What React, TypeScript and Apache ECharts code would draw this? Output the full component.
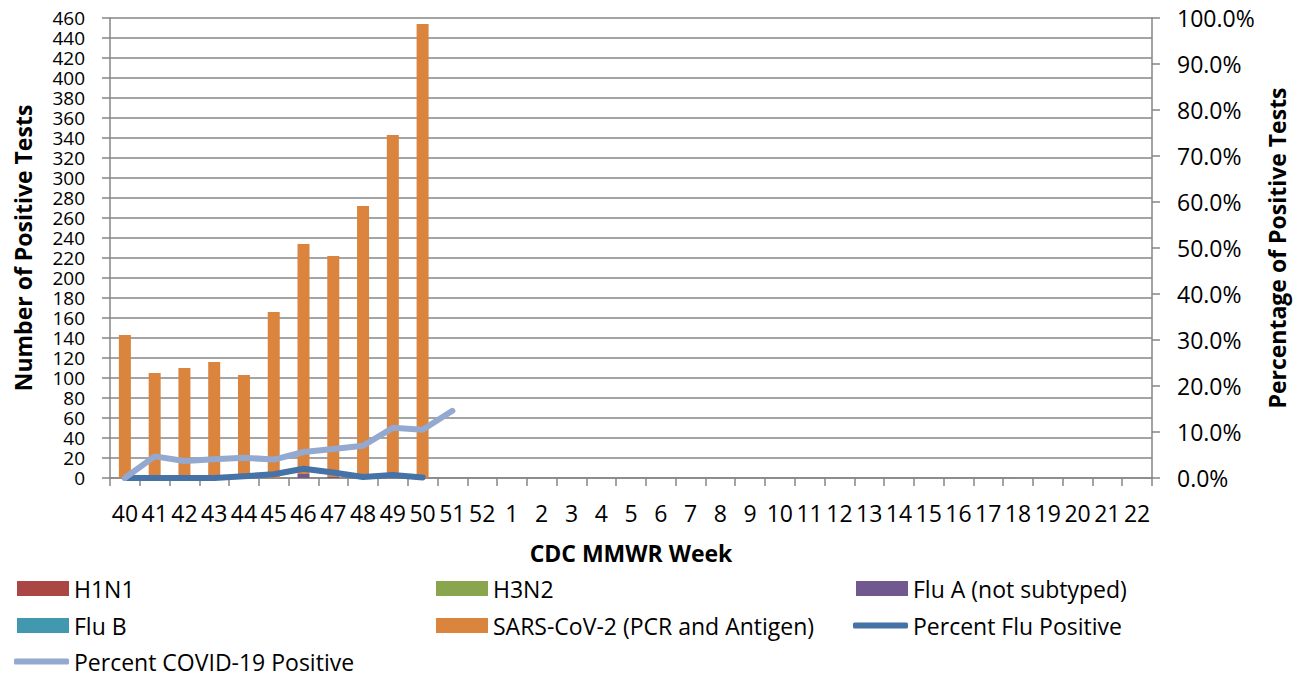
import React, { useEffect, useRef } from "react";
import * as echarts from "echarts";

const weeks = [
  "40", "41", "42", "43", "44", "45", "46", "47", "48", "49", "50", "51", "52",
  "1", "2", "3", "4", "5", "6", "7", "8", "9", "10", "11", "12", "13", "14",
  "15", "16", "17", "18", "19", "20", "21", "22",
];

const h1n1 = [0, 0, 0, 0, 0, 0, 0, 0, 0, 0, 0];
const h3n2 = [0, 0, 0, 0, 0, 0, 0, 0, 0, 0, 0];
const fluA = [0, 0, 0, 0, 0, 0, 4, 1, 0, 0, 0];
const fluB = [0, 0, 0, 0, 0, 0, 0, 0, 0, 0, 0];
const sars = [143, 105, 110, 116, 103, 166, 230, 221, 272, 343, 454];
const pctFlu = [0, 0, 0, 0, 0.4, 0.8, 2.0, 1.2, 0.2, 0.65, 0.1];
const pctCovid = [0, 4.7, 3.7, 4.1, 4.4, 4.0, 5.65, 6.3, 7.0, 10.9, 10.5, 14.6];

const FONT = "Open Sans";
const GRAY = "#868686";

export default function App() {
  const ref = useRef<HTMLDivElement>(null);

  useEffect(() => {
    document.body.style.margin = "0";
    document.body.style.overflow = "hidden";
    const chart = echarts.init(ref.current!, undefined, { renderer: "svg" });

    const legendCommon = {
      orient: "horizontal",
      padding: 0,
      selectedMode: false,
      textStyle: { fontSize: 23, color: "#000", fontFamily: FONT },
    };
    const legendPos: [string, number, number, boolean][] = [
      ["H1N1", 17, 577, false],
      ["H3N2", 436, 577, false],
      ["Flu A (not subtyped)", 856, 577, false],
      ["Flu B", 17, 614, false],
      ["SARS-CoV-2 (PCR and Antigen)", 436, 614, false],
      ["Percent Flu Positive", 856, 614, true],
      ["Percent COVID-19 Positive", 17, 650, true],
    ];

    const barSeries = (name: string, data: number[], color: string) => ({
      name,
      type: "bar",
      stack: "tests",
      barWidth: 12,
      data,
      itemStyle: { color },
    });

    const lineSeries = (name: string, data: number[], color: string) => ({
      name,
      type: "line",
      yAxisIndex: 1,
      data,
      symbol: "none",
      showSymbol: false,
      lineStyle: { color, width: 6, cap: "round", join: "round" },
      itemStyle: { color },
    });

    chart.setOption({
      animation: false,
      backgroundColor: "#fff",
      textStyle: { fontFamily: FONT },
      grid: { left: 110, right: 146, top: 18, bottom: 199, containLabel: false },
      legend: legendPos.map(([name, left, top, isLine]) => ({
        ...legendCommon,
        data: [{ name, icon: isLine ? "roundRect" : "rect" }],
        itemHeight: isLine ? 6 : 15,
        left: isLine ? left - 3 : left,
        itemWidth: isLine ? 55 : 52,
        top,
      })),
      xAxis: {
        type: "category",
        data: weeks,
        boundaryGap: true,
        name: "CDC MMWR Week",
        nameLocation: "middle",
        nameGap: 63,
        nameTextStyle: { fontSize: 23, fontWeight: "bold", color: "#000", fontFamily: FONT },
        axisLine: { show: true, lineStyle: { color: GRAY, width: 1.5 } },
        axisTick: { show: true, length: 8, alignWithLabel: false, interval: 0, lineStyle: { color: GRAY, width: 1.5 } },
        axisLabel: { interval: 0, margin: 23, fontSize: 23, color: "#000", fontFamily: FONT },
        splitLine: { show: false },
      },
      yAxis: [
        {
          type: "value",
          min: 0,
          max: 460,
          interval: 20,
          name: "Number of Positive Tests",
          nameLocation: "middle",
          nameGap: 76,
          nameTextStyle: { fontSize: 23, fontWeight: "bold", color: "#000", fontFamily: FONT },
          axisLine: { show: true, lineStyle: { color: GRAY, width: 1.5 } },
          axisTick: { show: true, length: 8, lineStyle: { color: GRAY, width: 1.5 } },
          axisLabel: {
            margin: 25,
            fontSize: 19,
            lineHeight: 19,
            color: "#000",
            fontFamily: FONT,
            showMinLabel: true,
            showMaxLabel: true,
            hideOverlap: false,
          },
          splitLine: { show: true, lineStyle: { color: GRAY, width: 1.5 } },
        },
        {
          type: "value",
          position: "right",
          min: 0,
          max: 100,
          interval: 10,
          name: "Percentage of Positive Tests",
          nameLocation: "middle",
          nameGap: 108,
          nameTextStyle: { fontSize: 23, fontWeight: "bold", color: "#000", fontFamily: FONT },
          axisLine: { show: true, lineStyle: { color: GRAY, width: 1.5 } },
          axisTick: { show: true, length: 8, lineStyle: { color: GRAY, width: 1.5 } },
          axisLabel: {
            margin: 25,
            fontSize: 23,
            color: "#000",
            fontFamily: FONT,
            formatter: (v: number) => v.toFixed(1) + "%",
          },
          splitLine: { show: false },
        },
      ],
      series: [
        barSeries("H1N1", h1n1, "#AA4643"),
        barSeries("H3N2", h3n2, "#89A54E"),
        barSeries("Flu A (not subtyped)", fluA, "#71588F"),
        barSeries("Flu B", fluB, "#4198AF"),
        barSeries("SARS-CoV-2 (PCR and Antigen)", sars, "#DB843D"),
        lineSeries("Percent Flu Positive", pctFlu, "#4572A7"),
        lineSeries("Percent COVID-19 Positive", pctCovid, "#93A9CF"),
      ],
    });

    return () => chart.dispose();
  }, []);

  return <div ref={ref} style={{ width: 1298, height: 677 }} />;
}
